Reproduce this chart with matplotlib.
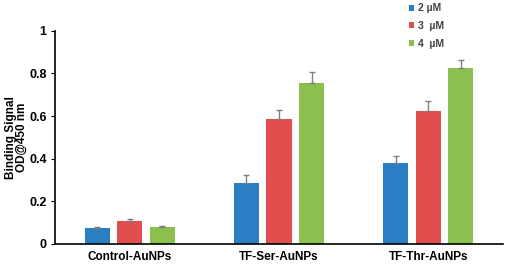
import numpy as np
import matplotlib
matplotlib.use("Agg")
import matplotlib.pyplot as plt

plt.rcParams['font.family'] = ['Liberation Sans', 'DejaVu Sans']

groups = ["Control-AuNPs", "TF-Ser-AuNPs", "TF-Thr-AuNPs"]
series = ["2 µM", "3  µM", "4  µM"]
vals = [[0.074, 0.288, 0.379],
        [0.109, 0.587, 0.626],
        [0.081, 0.756, 0.825]]
errs = [[0.004, 0.036, 0.033],
        [0.008, 0.041, 0.045],
        [0.005, 0.050, 0.039]]
colors = ["#2a7fc4", "#e04e4e", "#8cbf4e"]

fig = plt.figure(figsize=(5.05, 2.64), dpi=100)
ax = fig.add_axes([0.109, 0.076, 0.887, 0.807])

x = np.arange(len(groups))
w = 0.168
step = 0.218
for i in range(3):
    ax.bar(x + (i - 1) * step, vals[i], w, color=colors[i], label=series[i],
           yerr=[np.zeros(3), errs[i]], ecolor="#7f7f7f",
           error_kw=dict(elinewidth=1, capsize=2, capthick=1))

ax.set_xlim(-0.5, 2.5)
ax.set_ylim(0, 1)
ax.set_yticks([0, 0.2, 0.4, 0.6, 0.8, 1])
ax.set_yticklabels(["0", "0.2", "0.4", "0.6", "0.8", "1"])
ax.set_xticks(x)
ax.set_xticklabels(groups)
for lab in ax.get_yticklabels():
    lab.set_fontweight("bold")
    lab.set_fontsize(9)
for lab in ax.get_xticklabels():
    lab.set_fontweight("bold")
    lab.set_fontsize(8.5)
ax.tick_params(axis="x", length=0, pad=5)
ax.tick_params(axis="y", length=3, pad=3)
ax.spines["top"].set_visible(False)
ax.spines["right"].set_visible(False)
ax.spines["left"].set_linewidth(1.2)
ax.spines["bottom"].set_linewidth(1.2)
ax.set_ylabel("Binding Signal\nOD@450 nm", fontsize=8.5, fontweight="bold",
              linespacing=0.9, labelpad=1)

fig.legend(loc="upper left", bbox_to_anchor=(0.795, 1.015), frameon=False,
           handlelength=0.5, handleheight=0.5, handletextpad=0.4,
           labelspacing=0.75, borderpad=0.2, labelcolor="#404040",
           prop=dict(weight="bold", size=7.5))

fig.savefig("out.png", dpi=100)
